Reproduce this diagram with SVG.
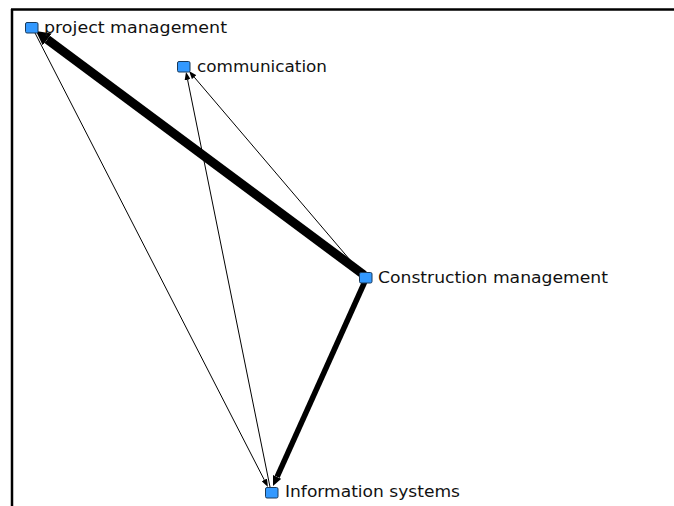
<svg xmlns="http://www.w3.org/2000/svg" width="674" height="506" viewBox="0 0 674 506">
<style>
.node rect{fill:#3399ff;stroke:#1a3a5a;stroke-width:1}
.node text{font-family:"DejaVu Sans",Verdana,sans-serif;font-size:16px;fill:#111}
.edge{stroke:#000;fill:none;stroke-linecap:butt}
</style>
<defs>
<marker id="thin" markerUnits="userSpaceOnUse" markerWidth="8" markerHeight="6" viewBox="0 0 8 6" refX="0" refY="3" orient="auto"><path d="M0,0 L8,3 L0,6 Z" fill="#000"/></marker>
<marker id="big" markerUnits="userSpaceOnUse" markerWidth="14" markerHeight="15" viewBox="0 0 14 15" refX="0" refY="7.5" orient="auto"><path d="M0,0 L14,7.5 L0,15 Z" fill="#000"/></marker>
<marker id="mid" markerUnits="userSpaceOnUse" markerWidth="10" markerHeight="9" viewBox="0 0 10 9" refX="0" refY="4.5" orient="auto"><path d="M0,0 L10,4.5 L0,9 Z" fill="#000"/></marker>
</defs>
<rect x="0" y="0" width="674" height="506" fill="#fff"/>
<line x1="11" y1="9.5" x2="674" y2="9.5" stroke="#000" stroke-width="2.5"/>
<line x1="12" y1="9" x2="12" y2="506" stroke="#000" stroke-width="2.5"/>
<g id="connectors">
<path class="edge" d="M364,275 L47.2,39.4" stroke-width="9" marker-end="url(#big)"/>
<path class="edge" d="M366,279 L277.1,476.9" stroke-width="5.5" marker-end="url(#mid)"/>
<path class="edge" d="M362,274 L194.2,77.1" stroke-width="1" marker-end="url(#thin)"/>
<path class="edge" d="M270,487 L187.6,79.8" stroke-width="1" marker-end="url(#thin)"/>
<path class="edge" d="M34,31 L264.3,479.9" stroke-width="1" marker-end="url(#thin)"/>
</g>
<g id="node-project-management" class="node">
<rect x="25.5" y="22.5" width="12.5" height="10.5" rx="1.5"/>
<text x="44" y="33" textLength="183" lengthAdjust="spacingAndGlyphs">project management</text>
</g>
<g id="node-communication" class="node">
<rect x="177.5" y="61.5" width="12.5" height="10.5" rx="1.5"/>
<text x="197" y="72" textLength="130" lengthAdjust="spacingAndGlyphs">communication</text>
</g>
<g id="node-construction-management" class="node">
<rect x="359.5" y="272.5" width="12.5" height="10.5" rx="1.5"/>
<text x="378" y="283" textLength="230" lengthAdjust="spacingAndGlyphs">Construction management</text>
</g>
<g id="node-information-systems" class="node">
<rect x="265.5" y="487.5" width="12.5" height="10.5" rx="1.5"/>
<text x="285" y="497" textLength="175" lengthAdjust="spacingAndGlyphs">Information systems</text>
</g>
</svg>
